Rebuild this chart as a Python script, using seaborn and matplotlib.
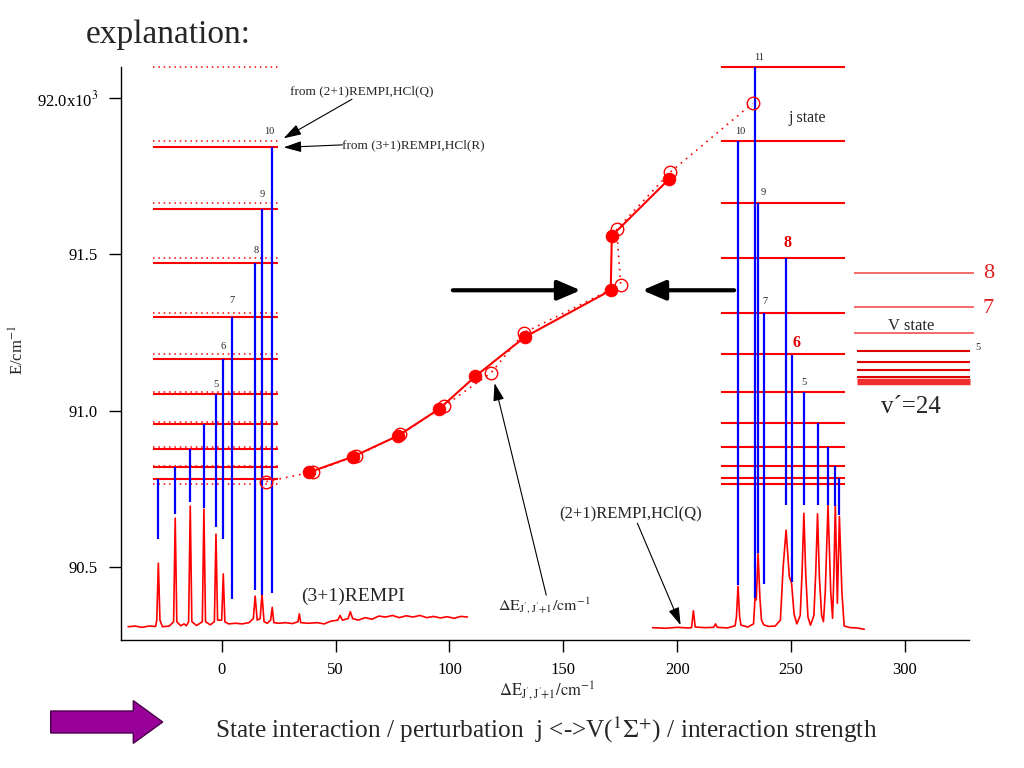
import matplotlib
matplotlib.use("Agg")
import matplotlib.pyplot as plt
import matplotlib.patches as mpatches
import seaborn as sns

# ---------------- data ----------------
# left ladder (3+1 REMPI), energies in 10^3 cm^-1
left_solid_levels = [91.842, 91.645, 91.472, 91.300, 91.165, 91.053, 90.957, 90.877, 90.821, 90.781]
left_dotted_levels = [92.098, 91.862, 91.663, 91.488, 91.313, 91.180, 91.061, 90.963, 90.883, 90.824, 90.764]
left_ladder_x = [-30.3, 24.6]
left_trans_x = [-27.8, -20.4, -13.8, -7.8, -2.5, 0.7, 4.5, 14.7, 17.7, 22.2]
left_trans_top = [90.781, 90.821, 90.877, 90.957, 91.053, 91.165, 91.300, 91.472, 91.645, 91.842]
left_trans_bot = [90.589, 90.670, 90.709, 90.689, 90.629, 90.589, 90.398, 90.426, 90.410, 90.418]
left_labels = ["10", "9", "8", "7", "6", "5"]
left_label_x = [20.9, 17.8, 15.2, 4.7, 0.5, -2.3]
left_label_y = [91.894, 91.690, 91.512, 91.352, 91.205, 91.084]

# right ladder (2+1 REMPI)
right_levels = [92.098, 91.862, 91.663, 91.489, 91.313, 91.180, 91.061, 90.962, 90.883, 90.823, 90.784, 90.764]
right_ladder_x = [219.1, 273.6]
right_trans_x = [226.7, 234.2, 235.5, 237.9, 247.8, 250.3, 255.6, 261.6, 266.2, 269.4, 271.2]
right_trans_top = [91.862, 92.098, 91.663, 91.313, 91.489, 91.178, 91.061, 90.962, 90.883, 90.823, 90.784]
right_trans_bot = [90.442, 90.400, 90.544, 90.447, 90.698, 90.451, 90.698, 90.698, 90.698, 90.696, 90.666]
right_labels = ["11", "10", "9", "7", "5"]
right_label_x = [235.8, 227.5, 237.6, 238.6, 255.7]
right_label_y = [92.131, 91.894, 91.697, 91.349, 91.091]
right_bold_labels = ["8", "6"]
right_bold_x = [248.4, 252.4]
right_bold_y = [91.535, 91.217]

# V state ladder
v_light_levels = [91.441, 91.332, 91.249]
v_dark_levels = [91.191, 91.155, 91.129, 91.109]
v_thick_levels = [91.097, 91.089]

# Delta E curves
filled_x = [38.5, 57.7, 77.5, 95.6, 111.4, 133.0, 170.8, 171.3, 196.6]
filled_y = [90.803, 90.853, 90.920, 91.006, 91.110, 91.235, 91.385, 91.559, 91.742]
open_x = [19.6, 39.9, 59.1, 78.5, 97.5, 118.3, 132.7, 175.2, 173.4, 197.0, 233.1]
open_y = [90.773, 90.804, 90.856, 90.924, 91.014, 91.121, 91.249, 91.403, 91.580, 91.763, 91.983]

# spectra (vertices)
spec_left_x = [-41.1, -38, -35, -32, -29, -28.5, -27.8, -27.1, -26, -23, -21.1, -20.4, -19.7, -18,
               -16.5, -15.5, -14.5, -13.8, -13.1, -11, -8.5, -7.8, -7.1, -5, -3.2, -2.5, -1.8, 0.0,
               0.7, 1.4, 3, 6, 9, 12, 13.9, 14.7, 15.6, 16.9, 17.7, 18.6, 20, 21.5, 22.2, 22.9, 25,
               28, 31, 33.5, 34.1, 34.7, 38, 42, 45, 48, 51, 52, 53, 55.5, 56.5, 57.5, 60, 63, 66,
               69, 72, 75, 78, 81, 84, 87, 90, 93, 96, 99, 102, 105, 107.9]
spec_left_y = [90.309, 90.311, 90.307, 90.311, 90.310, 90.330, 90.512, 90.330, 90.309, 90.311, 90.325,
               90.656, 90.325, 90.312, 90.318, 90.312, 90.325, 90.695, 90.325, 90.313, 90.325, 90.685,
               90.325, 90.315, 90.325, 90.605, 90.330, 90.330, 90.478, 90.325, 90.318, 90.320, 90.318,
               90.322, 90.335, 90.407, 90.330, 90.335, 90.414, 90.325, 90.320, 90.330, 90.371, 90.322,
               90.320, 90.322, 90.319, 90.325, 90.350, 90.322, 90.320, 90.322, 90.318, 90.327, 90.330,
               90.345, 90.330, 90.335, 90.357, 90.335, 90.330, 90.338, 90.333, 90.343, 90.340, 90.345,
               90.338, 90.344, 90.340, 90.345, 90.338, 90.342, 90.337, 90.341, 90.336, 90.342, 90.340]
spec_right_x = [189.2, 195, 200, 205, 206.3, 207.1, 207.9, 212, 216.0, 216.8, 217.6, 222, 225.4, 226.0,
                226.7, 227.4, 228.0, 231, 233.5, 234.2, 234.7, 235.5, 236.3, 237.0, 238, 240, 243, 245.3,
                246.5, 247.8, 249.2, 250.2, 251.3, 252.5, 254.0, 254.8, 255.6, 256.4, 257.4, 258.5, 260.0,
                260.8, 261.6, 262.4, 263.4, 264.2, 265.0, 266.2, 267.4, 268.2, 268.8, 269.4, 270.3, 271.2,
                272.3, 273.3, 276, 279, 282.1]
spec_right_y = [90.306, 90.304, 90.307, 90.305, 90.306, 90.360, 90.308, 90.306, 90.307, 90.318, 90.307,
                90.305, 90.312, 90.340, 90.439, 90.340, 90.314, 90.308, 90.318, 90.405, 90.395, 90.543,
                90.400, 90.330, 90.315, 90.310, 90.311, 90.330, 90.500, 90.618, 90.470, 90.448, 90.350,
                90.318, 90.345, 90.480, 90.672, 90.480, 90.340, 90.314, 90.345, 90.480, 90.670, 90.470,
                90.345, 90.325, 90.420, 90.698, 90.420, 90.336, 90.480, 90.700, 90.384, 90.662, 90.420,
                90.311, 90.306, 90.305, 90.301]

yticks = [90.5, 91.0, 91.5, 92.0]
ytick_labels = ["90.5", "91.0", "91.5", "92.0x10$^{3}$"]
xticks = [0, 50, 100, 150, 200, 250, 300]

# ---------------- style ----------------
sns.set_theme(style="ticks")
plt.rcParams["font.family"] = ["Liberation Serif", "DejaVu Serif"]
plt.rcParams["mathtext.fontset"] = "stix"

RED = "#ff0000"
BLUE = "#0000ff"

fig = plt.figure(figsize=(10.24, 7.68), dpi=100)
ax = fig.add_axes([121 / 1024, 1 - 640 / 768, (969 - 121) / 1024, (640 - 66.7) / 768])
ax.set_xlim(-44.2, 328.1)
ax.set_ylim(90.2665, 92.1)

# spectra
sns.lineplot(x=spec_left_x, y=spec_left_y, ax=ax, color=RED, lw=1.2, sort=False, estimator=None)
sns.lineplot(x=spec_right_x, y=spec_right_y, ax=ax, color=RED, lw=1.2, sort=False, estimator=None)

# ladders
ax.hlines(left_solid_levels, *left_ladder_x, color=RED, lw=1.5, zorder=3)
ax.hlines(left_dotted_levels, *left_ladder_x, color=RED, lw=1.1, linestyles=(0, (1, 2.5)),
          zorder=3, clip_on=False)
ax.hlines(right_levels, *right_ladder_x, color=RED, lw=1.5, zorder=3, clip_on=False)
ax.vlines(left_trans_x, left_trans_bot, left_trans_top, color=BLUE, lw=1.6, zorder=4)
ax.vlines(right_trans_x, right_trans_bot, right_trans_top, color=BLUE, lw=1.6, zorder=4,
          clip_on=False)
ax.hlines(v_light_levels, 277.7, 330.2, color="#f05050", lw=1.2, zorder=3, clip_on=False)
ax.hlines(v_dark_levels, 278.8, 328.7, color="#e00000", lw=1.5, zorder=3, clip_on=False)
ax.hlines(v_thick_levels, 278.8, 328.7, color="#f03030", lw=2.5, zorder=3, clip_on=False)

# delta E curves
sns.lineplot(x=open_x, y=open_y, ax=ax, color=RED, lw=1.2, linestyle=(0, (1, 3)), sort=False,
             estimator=None, marker="o", markersize=9, markerfacecolor="none",
             markeredgecolor=RED, markeredgewidth=1.0, zorder=5)
sns.lineplot(x=filled_x, y=filled_y, ax=ax, color=RED, lw=1.5, sort=False, estimator=None,
             marker="o", markersize=9, markerfacecolor=RED, markeredgecolor=RED, zorder=6)

# level labels
for t, x, y in zip(left_labels, left_label_x, left_label_y):
    ax.text(x, y, t, fontsize=7.5, ha="center", va="center")
for t, x, y in zip(right_labels, right_label_x, right_label_y):
    ax.text(x, y, t, fontsize=7.5, ha="center", va="center")
for t, x, y in zip(right_bold_labels, right_bold_x, right_bold_y):
    ax.text(x, y, t, fontsize=11.5, ha="center", va="center", color="#e00000",
            fontweight="bold")
ax.text(257.2, 91.935, "j state", fontsize=11.5, ha="center", va="center")
ax.text(336.8, 91.439, "8", fontsize=16, ha="center", va="center", color="#e02020")
ax.text(336.3, 91.327, "7", fontsize=16, ha="center", va="center", color="#e02020")
ax.text(302.9, 91.272, "V state", fontsize=12, ha="center", va="center")
ax.text(332.0, 91.203, "5", fontsize=7.5, ha="center", va="center")
ax.text(302.6, 91.013, "v\u00b4=24", fontsize=18, ha="center", va="center")

# annotations
thin = dict(arrowstyle="-|>,head_length=0.9,head_width=0.28", color="black", lw=0.8,
            mutation_scale=12, shrinkA=0, shrinkB=0)
ax.annotate("", xy=(27.2, 91.871), xytext=(57.2, 91.996), arrowprops=thin)
ax.text(61.3, 92.022, "from (2+1)REMPI,HCl(Q)", fontsize=9.5, ha="center", va="center")
ax.annotate("", xy=(27.2, 91.842), xytext=(53.0, 91.850), arrowprops=thin)
ax.text(53.0, 91.850, "from (3+1)REMPI,HCl(R)", fontsize=9.5, ha="left", va="center")
ax.annotate("", xy=(119.8, 91.088), xytext=(142.5, 90.410), arrowprops=thin)
ax.text(141.8, 90.375, r"$\Delta\mathrm{E}_{\mathrm{J}^{\prime}\mathrm{,J}^{\prime}\mathrm{+1}}/\mathrm{cm}^{-1}$",
        fontsize=11.5, ha="center", va="center")
ax.annotate("", xy=(201.5, 90.314), xytext=(182.5, 90.640), arrowprops=thin)
ax.text(179.6, 90.673, "(2+1)REMPI,HCl(Q)", fontsize=12, ha="center", va="center")
ax.text(57.8, 90.407, "(3+1)REMPI", fontsize=14, ha="center", va="center")

thick = dict(arrowstyle="-|>,head_length=0.7,head_width=0.3", color="black", lw=3,
             mutation_scale=20, shrinkA=0, shrinkB=0)
ax.annotate("", xy=(157.6, 91.385), xytext=(101.5, 91.385), arrowprops=thick)
ax.annotate("", xy=(184.7, 91.385), xytext=(225.0, 91.385), arrowprops=thick)

# axes styling
for s in ["top", "right"]:
    ax.spines[s].set_visible(False)
for s in ["left", "bottom"]:
    ax.spines[s].set_color("black")
    ax.spines[s].set_linewidth(1.0)
ax.set_xticks(xticks)
ax.set_xticklabels([str(v) for v in xticks])
ax.set_yticks(yticks)
ax.set_yticklabels(ytick_labels)
ax.tick_params(axis="both", direction="out", length=8.6, width=1.0, colors="black",
               labelsize=12)
ax.tick_params(axis="x", pad=7)
ax.tick_params(axis="y", pad=8)

fig.text(18 / 1024, 1 - 350 / 768, "E/cm$^{-1}$", fontsize=12, rotation=90,
         ha="center", va="center")
fig.text(547 / 1024, 1 - 691 / 768,
         r"$\Delta\mathrm{E}_{\mathrm{J}^{\prime}\mathrm{,J}^{\prime}\mathrm{+1}}/\mathrm{cm}^{-1}$",
         fontsize=12, ha="center", va="center")

# titles / footer
fig.text(86 / 1024, 1 - 43 / 768, "explanation:", fontsize=24, ha="left", va="baseline")
fig.text(215 / 1024, 1 - 730 / 768,
         r"State interaction / perturbation  j <->V($^{1}\Sigma^{+}$) / interaction strength",
         fontsize=18.2, ha="left", va="center")
arrow = mpatches.FancyArrow(50.7 / 1024, 1 - 722 / 768, (162.7 - 50.7) / 1024, 0,
                            width=22 / 768, head_width=42.7 / 768,
                            head_length=29.4 / 1024, length_includes_head=True,
                            transform=fig.transFigure, facecolor="#990099",
                            edgecolor="#4b004b", lw=1)
fig.add_artist(arrow)

fig.savefig("out.png", dpi=100)
